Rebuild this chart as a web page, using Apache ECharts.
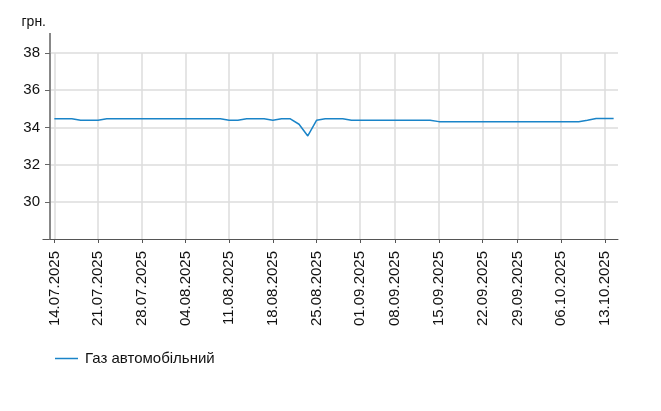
<!DOCTYPE html>
<html>
<head>
<meta charset="utf-8">
<script src="https://cdn.jsdelivr.net/npm/echarts@6/dist/echarts.min.js"></script>
<style>
html,body{margin:0;padding:0;background:#fff;}
#chart{width:661px;height:411px;}
</style>
</head>
<body>
<div id="chart"></div>
<script>
// ---- data ----
const categories = [
  '14.07.2025','15.07.2025','16.07.2025','17.07.2025','18.07.2025',
  '21.07.2025','22.07.2025','23.07.2025','24.07.2025','25.07.2025',
  '28.07.2025','29.07.2025','30.07.2025','31.07.2025','01.08.2025',
  '04.08.2025','05.08.2025','06.08.2025','07.08.2025','08.08.2025',
  '11.08.2025','12.08.2025','13.08.2025','14.08.2025','15.08.2025',
  '18.08.2025','19.08.2025','20.08.2025','21.08.2025','22.08.2025',
  '25.08.2025','26.08.2025','27.08.2025','28.08.2025','29.08.2025',
  '01.09.2025','02.09.2025','03.09.2025','04.09.2025',
  '08.09.2025','09.09.2025','10.09.2025','11.09.2025','12.09.2025',
  '15.09.2025','16.09.2025','17.09.2025','18.09.2025','19.09.2025',
  '22.09.2025','23.09.2025','24.09.2025','25.09.2025',
  '29.09.2025','30.09.2025','01.10.2025','02.10.2025','03.10.2025',
  '06.10.2025','07.10.2025','08.10.2025','09.10.2025','10.10.2025',
  '13.10.2025','14.10.2025'
];
const gasValues = [
  34.46,34.46,34.46,34.39,34.39,
  34.39,34.46,34.46,34.46,34.46,
  34.46,34.46,34.46,34.46,34.46,
  34.46,34.46,34.46,34.46,34.46,
  34.39,34.39,34.46,34.46,34.46,
  34.39,34.46,34.46,34.17,33.54,
  34.38,34.46,34.46,34.46,34.39,
  34.39,34.39,34.39,34.39,
  34.39,34.39,34.39,34.39,34.39,
  34.31,34.31,34.31,34.31,34.31,
  34.31,34.31,34.31,34.31,
  34.31,34.31,34.31,34.31,34.31,
  34.31,34.31,34.31,34.38,34.48,
  34.48,34.48
];
const tickLabels = [
  '14.07.2025','21.07.2025','28.07.2025','04.08.2025','11.08.2025','18.08.2025','25.08.2025',
  '01.09.2025','08.09.2025','15.09.2025','22.09.2025','29.09.2025','06.10.2025','13.10.2025'
];
const seriesName = 'Газ автомобільний';
const yUnit = 'грн.';

// ---- layout ----
const G = {left: 50, right: 43, top: 53, bottom: 172};
const W = 661, H = 411;
const FONT = "'Liberation Sans', Arial, sans-serif";
const showTick = (idx, val) => tickLabels.indexOf(categories[idx]) >= 0;

const chart = echarts.init(document.getElementById('chart'), null, {renderer: 'canvas'});
chart.setOption({
  animation: false,
  backgroundColor: '#fff',
  textStyle: {fontFamily: FONT},
  grid: {left: G.left, right: G.right, top: G.top, bottom: G.bottom, containLabel: false},
  legend: {
    left: 50, top: 346,
    icon: 'rect', itemWidth: 23, itemHeight: 1.5, itemGap: 10,
    textStyle: {fontFamily: FONT, fontSize: 15, color: '#111', padding: [0, 0, 0, 2]},
    data: [seriesName]
  },
  xAxis: {
    type: 'category',
    data: categories,
    boundaryGap: true,
    axisLine: {show: true, lineStyle: {color: '#555', width: 1}},
    axisTick: {show: true, alignWithLabel: true, interval: showTick, length: 4, lineStyle: {color: '#555'}},
    axisLabel: {
      interval: showTick, rotate: 90, margin: 12,
      fontFamily: FONT, fontSize: 15, color: '#111'
    },
    splitLine: {show: true, alignWithLabel: true, interval: showTick, lineStyle: {color: '#dcdcdc', width: 1.5}}
  },
  yAxis: {
    type: 'value',
    min: 28, max: 38, interval: 2,
    name: yUnit,
    nameLocation: 'end',
    nameGap: 24,
    nameTextStyle: {fontFamily: FONT, fontSize: 14, color: '#111', align: 'right', padding: [0, 4, 0, 0]},
    axisLine: {show: true, lineStyle: {color: '#888', width: 2}},
    axisTick: {show: true, length: 5, lineStyle: {color: '#666'}},
    axisLabel: {showMinLabel: false, margin: 10, fontFamily: FONT, fontSize: 15, color: '#111'},
    splitLine: {show: true, showMinLine: false, lineStyle: {color: '#dcdcdc', width: 1.5}}
  },
  graphic: [
    {type: 'line', shape: {x1: G.left, y1: 33, x2: G.left, y2: G.top}, style: {stroke: '#888', lineWidth: 2}, silent: true},
    {type: 'line', shape: {x1: 42.5, y1: H - G.bottom + 0.5, x2: G.left, y2: H - G.bottom + 0.5}, style: {stroke: '#555', lineWidth: 1}, silent: true}
  ],
  series: [{
    name: seriesName,
    type: 'line',
    data: gasValues,
    symbol: 'none',
    showSymbol: false,
    lineStyle: {color: '#1a84c8', width: 1.5},
    itemStyle: {color: '#1a84c8'}
  }]
});
</script>
</body>
</html>
